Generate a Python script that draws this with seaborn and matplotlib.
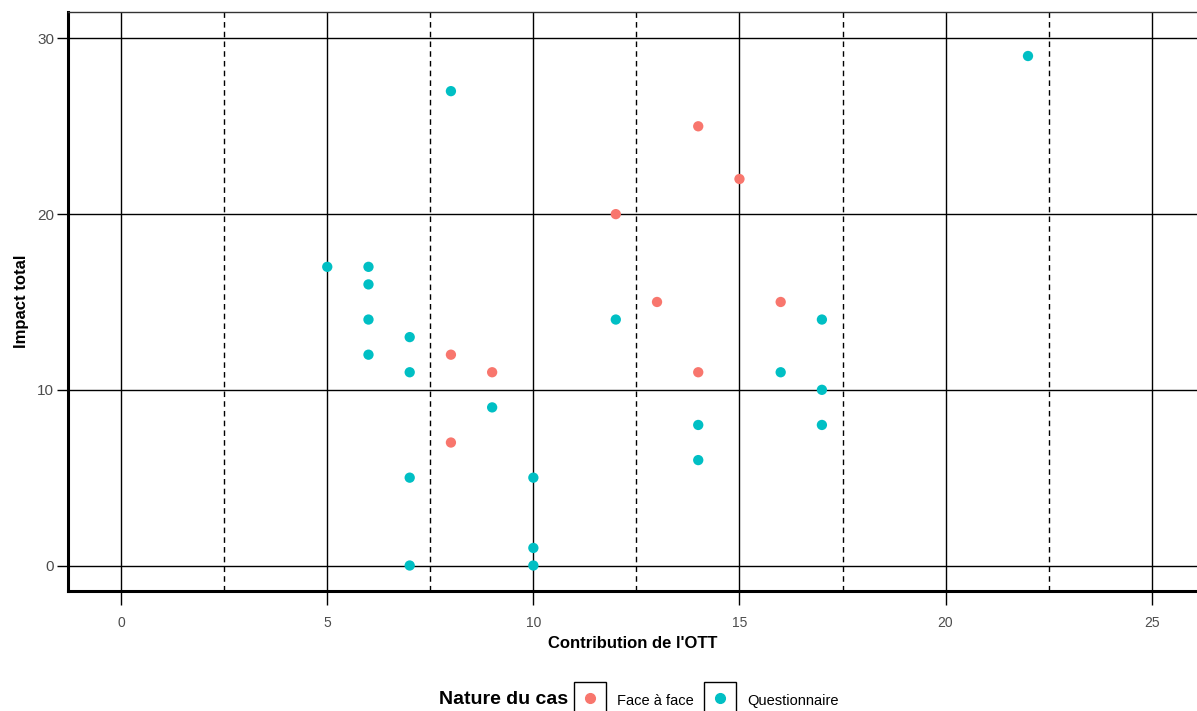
import pandas as pd
import matplotlib.pyplot as plt
import seaborn as sns
from matplotlib.patches import Rectangle
from matplotlib.ticker import MultipleLocator

# data
face_x = [8, 9, 8, 12, 13, 14, 15, 16, 14]
face_y = [12, 11, 7, 20, 15, 25, 22, 15, 11]
quest_x = [5, 6, 6, 6, 6, 7, 7, 7, 7, 8, 9, 10, 10, 10, 12, 14, 14, 16, 17, 17, 17, 22]
quest_y = [17, 17, 16, 14, 12, 13, 11, 5, 0, 27, 9, 5, 1, 0, 14, 8, 6, 11, 14, 10, 8, 29]
groups = ['Face à face', 'Questionnaire']
colors = ['#F8766D', '#00BFC4']

df = pd.DataFrame({
    'contrib': face_x + quest_x,
    'impact': face_y + quest_y,
    'nature': [groups[0]] * len(face_x) + [groups[1]] * len(quest_x),
})

sns.set_style('white')
plt.rcParams['font.family'] = ['Liberation Sans', 'DejaVu Sans']

W, H = 1197, 711
fig = plt.figure(figsize=(W / 100, H / 100), dpi=100)
ax = fig.add_axes([0.0568, 0.1688, 0.9432, 0.8142])

ax.xaxis.set_major_locator(MultipleLocator(5))
ax.xaxis.set_minor_locator(MultipleLocator(2.5))
ax.yaxis.set_major_locator(MultipleLocator(10))
ax.grid(True, which='major', axis='both', color='black', linewidth=1.0)
ax.grid(True, which='minor', axis='x', color='black', linewidth=1.0, linestyle=(0, (4, 3)))
ax.set_axisbelow(True)

sns.scatterplot(data=df, x='contrib', y='impact', hue='nature', hue_order=groups,
                palette=colors, s=55, edgecolor='none', legend=False, ax=ax)

ax.set_xlim(-1.29, 26.1)
ax.set_ylim(-1.45, 31.5)

for side in ['left', 'bottom']:
    ax.spines[side].set_color('black')
    ax.spines[side].set_linewidth(2.2)
ax.spines['right'].set_visible(False)
ax.spines['top'].set_color('#333333')
ax.spines['top'].set_linewidth(1.0)

ax.tick_params(axis='x', which='major', bottom=True, length=10, width=1.0, color='black',
               labelsize=10, labelcolor='#4d4d4d', pad=8)
ax.tick_params(axis='x', which='minor', bottom=False, length=0)
ax.tick_params(axis='y', which='major', left=True, length=8, width=1.0, color='black',
               labelsize=11, labelcolor='#4d4d4d', pad=2)

ax.set_xlabel("Contribution de l'OTT", fontsize=12, fontweight='bold', labelpad=4, color='black')
ax.set_ylabel('Impact total', fontsize=12, fontweight='bold', labelpad=6, color='black')

# legend at the bottom, ggplot style: title on the left, boxed keys
fig.text(568 / W, 1 - 700 / H, 'Nature du cas', fontsize=14, fontweight='bold',
         ha='right', va='center', color='black')
key_left = [574, 704]
text_left = [617, 747]
for name, c, kx, tx in zip(groups, colors, key_left, text_left):
    fig.add_artist(Rectangle((kx / W, 1 - 714 / H), 32 / W, 32 / H,
                             transform=fig.transFigure, facecolor='white',
                             edgecolor='black', linewidth=1.0, clip_on=False))
    fig.add_artist(plt.Line2D([(kx + 16) / W], [1 - 698 / H], marker='o', linestyle='',
                              color=c, markersize=7, transform=fig.transFigure))
    fig.text(tx / W, 1 - 701 / H, name, fontsize=10.5, ha='left', va='center', color='black')

fig.savefig('out.png', dpi=100)
